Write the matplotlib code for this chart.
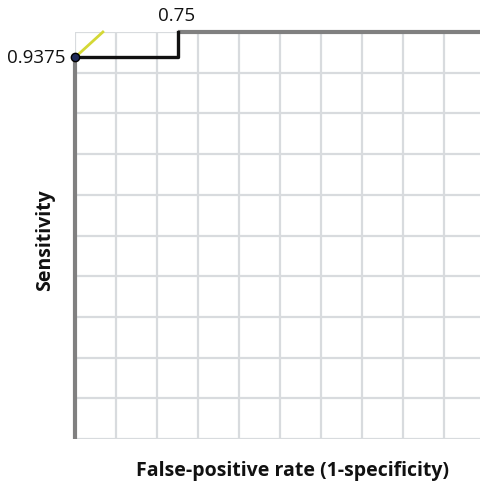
import matplotlib
matplotlib.use("Agg")
import matplotlib.pyplot as plt
import numpy as np

# ROC data
fpr_gray_low = [0.0, 0.0]
tpr_gray_low = [0.0, 0.9375]
fpr_step = [0.0, 0.25, 0.25]
tpr_step = [0.9375, 0.9375, 1.0]
fpr_gray_top = [0.25, 1.0]
tpr_gray_top = [1.0, 1.0]
tangent_x = [0.0, 0.068]
tangent_y = [0.9375, 1.0]
point_x = 0.0
point_y = 0.9375
label_sens = "0.9375"
label_spec = "0.75"
grid_ticks = np.linspace(0, 1, 11)

plt.rcParams['font.family'] = ['Open Sans', 'DejaVu Sans']
fig = plt.figure(figsize=(4.81, 4.89), dpi=100)
ax = fig.add_axes([75/481, 49/489, 410/481, 407/489])
ax.set_xlim(0, 1)
ax.set_ylim(0, 1)
for t in grid_ticks:
    ax.axvline(t, color='#d8dbde', lw=1.6, zorder=1)
    ax.axhline(t, color='#d8dbde', lw=1.6, zorder=1)
for s in ax.spines.values():
    s.set_visible(False)
ax.set_xticks([])
ax.set_yticks([])

ax.plot(fpr_gray_low, tpr_gray_low, color='#808080', lw=3.0, solid_capstyle='butt', zorder=3, clip_on=False)
ax.plot(fpr_gray_top, tpr_gray_top, color='#808080', lw=3.0, solid_capstyle='butt', zorder=3, clip_on=False)
ax.plot(fpr_step, tpr_step, color='#111111', lw=2.4, zorder=4, clip_on=False)
ax.plot(tangent_x, tangent_y, color='#d4d836', lw=2.0, zorder=4, clip_on=False)
ax.scatter([point_x], [point_y], s=36, color='#1f2a5a', edgecolor='black', lw=1, zorder=5, clip_on=False)

ax.annotate(label_sens, (point_x, point_y), xytext=(-7, 0), textcoords='offset points',
            ha='right', va='center', fontsize=13.5, color='#111111')
ax.annotate(label_spec, (0.25, 1.0), xytext=(-1, 6), textcoords='offset points',
            ha='center', va='bottom', fontsize=13.5, color='#111111')

fig.text(45/481, 1 - 240/489, "Sensitivity", rotation=90, ha='center', va='center',
         fontsize=14, fontweight='bold', color='#111111')
fig.text(293/481, 1 - 471/489, "False-positive rate (1-specificity)", ha='center', va='center',
         fontsize=14, fontweight='bold', color='#111111')

fig.savefig("out.png", dpi=100)
